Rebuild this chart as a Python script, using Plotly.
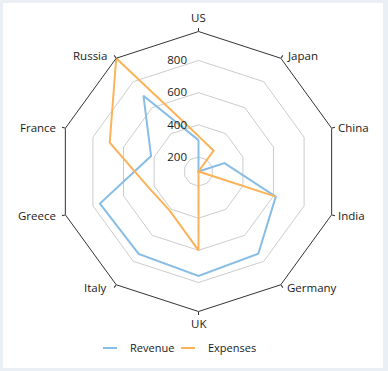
import math
import plotly.graph_objects as go

categories = ["US", "Japan", "China", "India", "Germany", "UK", "Italy", "Greece", "France", "Russia"]
revenue = [305, 110, 280, 615, 742, 759, 743, 754, 420, 692]
expenses = [330, 270, 110, 610, 110, 600, 412, 435, 690, 980]
radial_ticks = [200, 400, 600, 800]
radial_range = [110, 980]

W, H = 388, 371
cx, cy, R = 198.5, 171.5, 140

BLUE = "#88bde6"
ORANGE = "#fbb258"
FONT = "Open Sans"
FS = 11.5
TXT = "#1a1a1a"

def closed(vals):
    return list(vals) + [vals[0]]

fig = go.Figure()
fig.add_trace(go.Scatterpolar(r=closed(revenue), theta=closed(categories), mode="lines",
                              line=dict(color=BLUE, width=2), name="Revenue", showlegend=False))
fig.add_trace(go.Scatterpolar(r=closed(expenses), theta=closed(categories), mode="lines",
                              line=dict(color=ORANGE, width=2), name="Expenses", showlegend=False))
# legend-only entries with short line symbols (one legend box each)
for name, col, lg in [("Revenue", BLUE, "legend"), ("Expenses", ORANGE, "legend2")]:
    fig.add_trace(go.Scatterpolar(r=[None], theta=[categories[0]], mode="markers", name=name,
                                  legend=lg,
                                  marker=dict(symbol="line-ew", size=10, color=col,
                                              line=dict(color=col, width=2))))

# category labels placed beside the polygon vertices
annotations = []
n = len(categories)
for i, cat in enumerate(categories):
    a = math.radians(360 * i / n)
    vx = cx + R * math.sin(a)
    vy = cy - R * math.cos(a)
    s, c = math.sin(a), math.cos(a)
    if abs(s) < 1e-6:
        x, y = vx, vy - (14 if c > 0 else -11.5)
        xa = "center"
    elif s > 0:
        x, y, xa = vx + 4, vy - 4 * c, "left"
    else:
        x, y, xa = vx - 7, vy - 4 * c, "right"
    annotations.append(dict(text=cat, x=x / W, y=1 - y / H, xref="paper", yref="paper",
                            xanchor=xa, yanchor="middle", showarrow=False,
                            font=dict(family=FONT, size=FS, color=TXT)))

legend_common = dict(orientation="h", xanchor="left", y=1 - 348 / H, yanchor="middle",
                     bgcolor="rgba(0,0,0,0)", font=dict(family=FONT, size=11, color=TXT))

fig.update_layout(
    width=W, height=H,
    margin=dict(l=0, r=0, t=0, b=0),
    paper_bgcolor="#e9eff4",
    font=dict(family=FONT, size=FS, color=TXT),
    annotations=annotations,
    shapes=[dict(type="rect", xref="paper", yref="paper", x0=3 / W, x1=383 / W,
                 y0=1 - 368 / H, y1=1 - 3 / H, fillcolor="white", line=dict(width=0), layer="below")],
    polar=dict(
        domain=dict(x=[(cx - R) / W, (cx + R) / W], y=[1 - (cy + R) / H, 1 - (cy - R) / H]),
        bgcolor="rgba(0,0,0,0)",
        gridshape="linear",
        angularaxis=dict(type="category", categoryarray=categories, direction="clockwise",
                         rotation=90, showgrid=False, showline=True, linecolor="#333333", linewidth=1,
                         ticks="outside", ticklen=3, tickcolor="#333333", showticklabels=False),
        radialaxis=dict(range=radial_range, tickvals=radial_ticks, showline=False, angle=90,
                        tickangle=90, side="counterclockwise", ticks="outside", ticklen=7,
                        tickcolor="rgba(0,0,0,0)", gridcolor="#cccccc",
                        gridwidth=1, tickfont=dict(family=FONT, size=FS, color=TXT)),
    ),
    legend=dict(x=90 / W, **legend_common),
    legend2=dict(x=168 / W, **legend_common),
)

fig.write_html("out.html", config={"displayModeBar": False},
               post_script="document.body.style.margin='0px';")
